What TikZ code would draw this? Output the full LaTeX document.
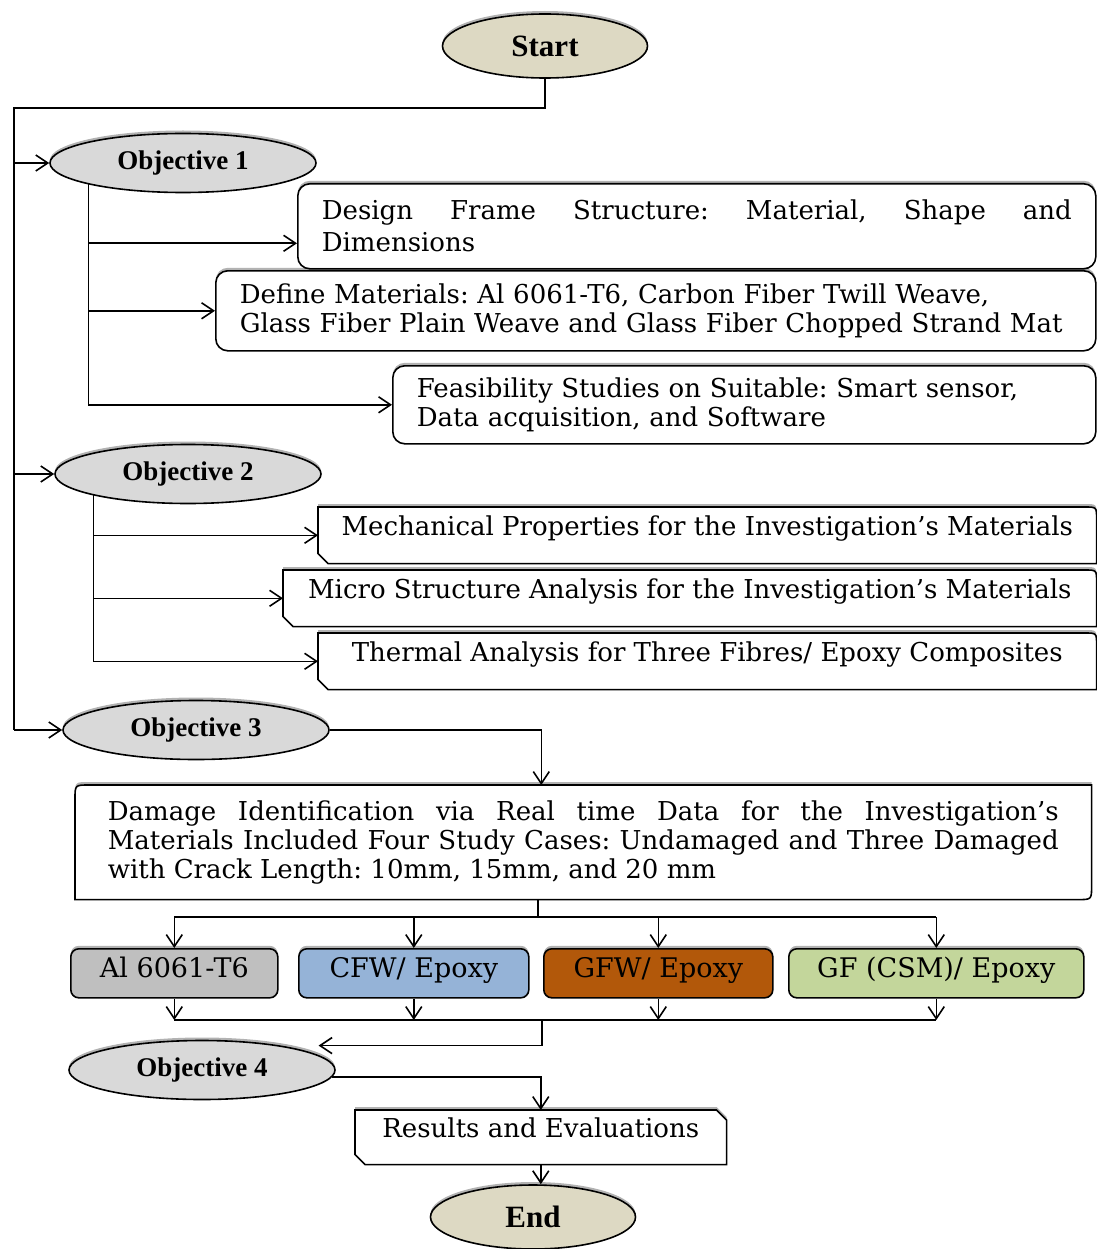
\documentclass[tikz,border=0pt]{standalone}
\usepackage{fontspec}
\setmainfont{DejaVu Serif}
\newfontfamily\objfont{Liberation Serif}
\usepackage{tikz}
\usetikzlibrary{shapes,arrows.meta,shadows,backgrounds,calc}
\definecolor{tanfill}{HTML}{DDD9C3}
\definecolor{objfill}{HTML}{D9D9D9}
\definecolor{alfill}{HTML}{BFBFBF}
\definecolor{cfwfill}{HTML}{95B3D7}
\definecolor{gfwfill}{RGB}{178,88,10}
\definecolor{gffill}{HTML}{C3D69B}
\frenchspacing

\begin{document}
\begin{tikzpicture}[x=1pt,y=-1pt,line width=1.6pt,>={Straight Barb[length=12pt,width=16pt]}]
\tikzset{
	soft shadow/.style = {drop shadow={shadow xshift=0pt,shadow yshift=3pt,opacity=.3,fill=black}},
	end node/.style = {ellipse, draw, fill=tanfill, inner sep=0pt, minimum width=205pt, minimum height=64pt, font=\objfont\bfseries\fontsize{31}{34}\selectfont, soft shadow},
	obj node/.style = {ellipse, draw, fill=objfill, inner sep=0pt, minimum width=266pt, minimum height=59pt, font=\objfont\bfseries\fontsize{27}{30}\selectfont, soft shadow},
	task node/.style = {rectangle, draw, fill=white, rounded corners=12pt, anchor=north west, align=left, inner xsep=24pt, font=\fontsize{26}{29}\selectfont, soft shadow},
	snip node/.style = {rectangle, anchor=north west, inner ysep=2pt, font=\fontsize{26}{29}\selectfont, text height=19pt, text depth=19pt},
	snip line/.style = {draw=black, fill=white, line width=1.6pt, draw opacity=1, fill opacity=1, soft shadow},
	mat node/.style = {rectangle, draw, rounded corners=8pt, anchor=north west, minimum height=49pt, inner ysep=2pt, font=\fontsize{27}{30}\selectfont, text height=22pt, text depth=14pt, soft shadow}
}
\useasboundingbox (0,0) rectangle (1096,1249);

\node[end node] (start) at (545,46) {Start};
\node[obj node] (obj1) at (183,163) {Objective 1};
\node[obj node] (obj2) at (188,474) {Objective 2};
\node[obj node] (obj3) at (196,730) {Objective 3};
\node[obj node] (obj4) at (202,1070) {Objective 4};
\node[end node] (end) at (533,1217) {End};

\node[task node, minimum width=798pt, minimum height=85pt, text width=750pt, align=justify, font=\fontsize{26}{32}\selectfont] (design) at (297,183) {Design Frame Structure: Material, Shape and\linebreak Dimensions};
\node[task node, minimum width=880pt, minimum height=80pt, text width=832pt] (define) at (215,270) {Define Materials: Al 6061-T6, Carbon Fiber Twill Weave,\\ Glass Fiber Plain Weave and Glass Fiber Chopped Strand Mat};
\node[task node, minimum width=703pt, minimum height=78pt, text width=655pt] (feas) at (392,365) {Feasibility Studies on Suitable: Smart sensor,\\ Data acquisition, and Software};

\node[snip node, minimum width=777pt, minimum height=55pt] (mech) at (318,507) {Mechanical Properties for the Investigation’s Materials};
\node[snip node, minimum width=812pt, minimum height=55pt] (micro) at (283,570) {Micro Structure Analysis for the Investigation’s Materials};
\node[snip node, minimum width=777pt, minimum height=55pt] (therm) at (318,633) {Thermal Analysis for Three Fibres/ Epoxy Composites};

\node[snip node, text height=, text depth=, inner xsep=26pt, minimum width=1015pt, minimum height=113pt, text width=951pt, align=justify] (damage) at (75,785) {Damage Identification via Real time Data for the Investigation’s\linebreak Materials Included Four Study Cases: Undamaged and Three Damaged\linebreak with Crack Length: 10mm, 15mm, and 20 mm};

\node[mat node, fill=alfill, minimum width=207pt] (al) at (70,948) {Al 6061-T6};
\node[mat node, fill=cfwfill, minimum width=230pt] (cfw) at (298,948) {CFW/ Epoxy};
\node[mat node, fill=gfwfill, minimum width=229pt] (gfw) at (543,948) {GFW/ Epoxy};
\node[mat node, fill=gffill, minimum width=295pt] (gf) at (788,948) {GF (CSM)/ Epoxy};

\node[snip node, minimum width=370pt, minimum height=53pt] (results) at (355,1110) {Results and Evaluations};

\begin{scope}[on background layer]
\path[snip line] (mech.north west) -- ([xshift=-12pt]mech.north east) .. controls (mech.north east) .. ([yshift=-12pt]mech.north east) -- (mech.south east) -- ([xshift=10pt]mech.south west) -- ([yshift=10pt]mech.south west) -- cycle;
\path[snip line] (micro.north west) -- ([xshift=-12pt]micro.north east) .. controls (micro.north east) .. ([yshift=-12pt]micro.north east) -- (micro.south east) -- ([xshift=10pt]micro.south west) -- ([yshift=10pt]micro.south west) -- cycle;
\path[snip line] (therm.north west) -- ([xshift=-12pt]therm.north east) .. controls (therm.north east) .. ([yshift=-12pt]therm.north east) -- (therm.south east) -- ([xshift=10pt]therm.south west) -- ([yshift=10pt]therm.south west) -- cycle;
\path[snip line] (damage.south west) -- ([yshift=-14pt]damage.north west) .. controls (damage.north west) .. ([xshift=14pt]damage.north west) -- (damage.north east) -- ([yshift=14pt]damage.south east) .. controls (damage.south east) .. ([xshift=-14pt]damage.south east) -- cycle;
\path[snip line] (results.north west) -- ([xshift=-10pt]results.north east) -- ([yshift=-10pt]results.north east) -- (results.south east) -- ([xshift=10pt]results.south west) -- ([yshift=10pt]results.south west) -- cycle;
\end{scope}

\coordinate (ltop) at (14,108);
\coordinate (lbot) at (14,730);
\draw (start.south) |- (ltop) -- (lbot);
\draw[->] (ltop |- obj1.west) -- (obj1.west);
\draw[->] (ltop |- obj2.west) -- (obj2.west);
\draw[->] (ltop |- obj3.west) -- (obj3.west);

\draw[->] (obj1.south west) |- ([yshift=-17pt]design.west);
\draw[->] (obj1.south west) |- (define.west);
\draw[->] (obj1.south west) |- (feas.west);

\draw[->] (obj2.south west) |- (mech.west);
\draw[->] (obj2.south west) |- (micro.west);
\draw[->] (obj2.south west) |- (therm.west);

\draw[->] (obj3.east) -| ([xshift=-42pt]damage.north);

\coordinate (fork) at (538,917);
\draw (damage.south -| fork) -- (fork);
\draw (al.north |- fork) -- (gf.north |- fork);
\draw[->] (al.north |- fork) -- (al.north);
\draw[->] (cfw.north |- fork) -- (cfw.north);
\draw[->] (gfw.north |- fork) -- (gfw.north);
\draw[->] (gf.north |- fork) -- (gf.north);

\coordinate (join) at (542,1020);
\draw[->] (al.south) -- (al.south |- join);
\draw[->] (cfw.south) -- (cfw.south |- join);
\draw[->] (gfw.south) -- (gfw.south |- join);
\draw[->] (gf.south) -- (gf.south |- join);
\draw (al.south |- join) -- (gf.south |- join);
\draw[->] (join) |- ([xshift=22pt,yshift=3pt]obj4.north east);

\draw[->] (obj4.-3) -| (results.north);
\draw[->] (results.south) -- (results.south |- end.north);
\end{tikzpicture}
\end{document}
